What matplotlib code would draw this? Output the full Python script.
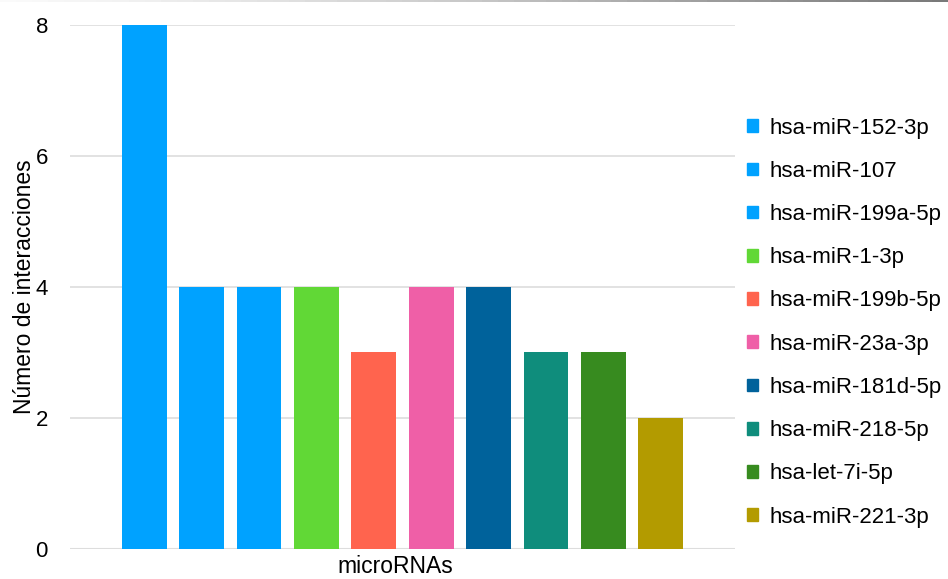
import matplotlib

matplotlib.use("Agg")
import matplotlib.pyplot as plt
import numpy as np
from matplotlib.collections import LineCollection

plt.rcParams["font.family"] = ["Liberation Sans", "DejaVu Sans"]

MIRNAS = [
    "hsa-miR-152-3p",
    "hsa-miR-107",
    "hsa-miR-199a-5p",
    "hsa-miR-1-3p",
    "hsa-miR-199b-5p",
    "hsa-miR-23a-3p",
    "hsa-miR-181d-5p",
    "hsa-miR-218-5p",
    "hsa-let-7i-5p",
    "hsa-miR-221-3p",
]
INTERACTIONS = [8, 4, 4, 4, 3, 4, 4, 3, 3, 2]
COLORS = [
    "#00A2FF", "#00A2FF", "#00A2FF", "#61D836", "#FF644E",
    "#EF5FA7", "#00629B", "#0F8D7C", "#378B1F", "#B39B00",
]
Y_TICKS = [0, 2, 4, 6, 8]

fig = plt.figure(figsize=(9.48, 5.79), dpi=100)
ax = fig.add_axes([0.074, 0.052, 0.701, 0.905])

xs = np.arange(len(MIRNAS))
ax.bar(xs, INTERACTIONS, width=0.78, color=COLORS, zorder=3)

ax.set_xlim(-1.29, 10.29)
ax.set_ylim(0, 8)
ax.set_yticks(Y_TICKS)
ax.set_xticks([])
ax.tick_params(axis="y", length=0, labelsize=16, pad=16)
ax.grid(True, axis="y", color="#DDDDDD", linewidth=1.2, zorder=0)
for side in ("top", "right", "left", "bottom"):
    ax.spines[side].set_visible(False)
ax.axhline(0, color="#DDDDDD", linewidth=1.5, zorder=2)

ax.set_ylabel("Número de interacciones", fontsize=16.5, labelpad=0)
ax.set_xlabel("microRNAs", fontsize=16.5, labelpad=6)
ax.xaxis.set_label_coords(0.489, -0.012, transform=ax.transAxes)
ax.xaxis.label.set_va("top")

handles = [plt.Rectangle((0, 0), 1, 1, color=c) for c in COLORS]
fig.legend(handles, MIRNAS, loc="center left", bbox_to_anchor=(0.779, 0.443),
           frameon=False, fontsize=16, handlelength=0.5, handleheight=0.5,
           handletextpad=0.5, labelspacing=1.0, borderaxespad=0)

# thin shaded rule along the top edge
xe = np.linspace(0, 1, 60)
segs = [[(xe[i], 0.999), (xe[i + 1], 0.999)] for i in range(len(xe) - 1)]
shades = plt.cm.Greys(np.linspace(0.05, 0.7, len(segs)))
fig.add_artist(LineCollection(segs, colors=shades, linewidths=1.2,
                              transform=fig.transFigure))

fig.savefig("out.png", dpi=100)
